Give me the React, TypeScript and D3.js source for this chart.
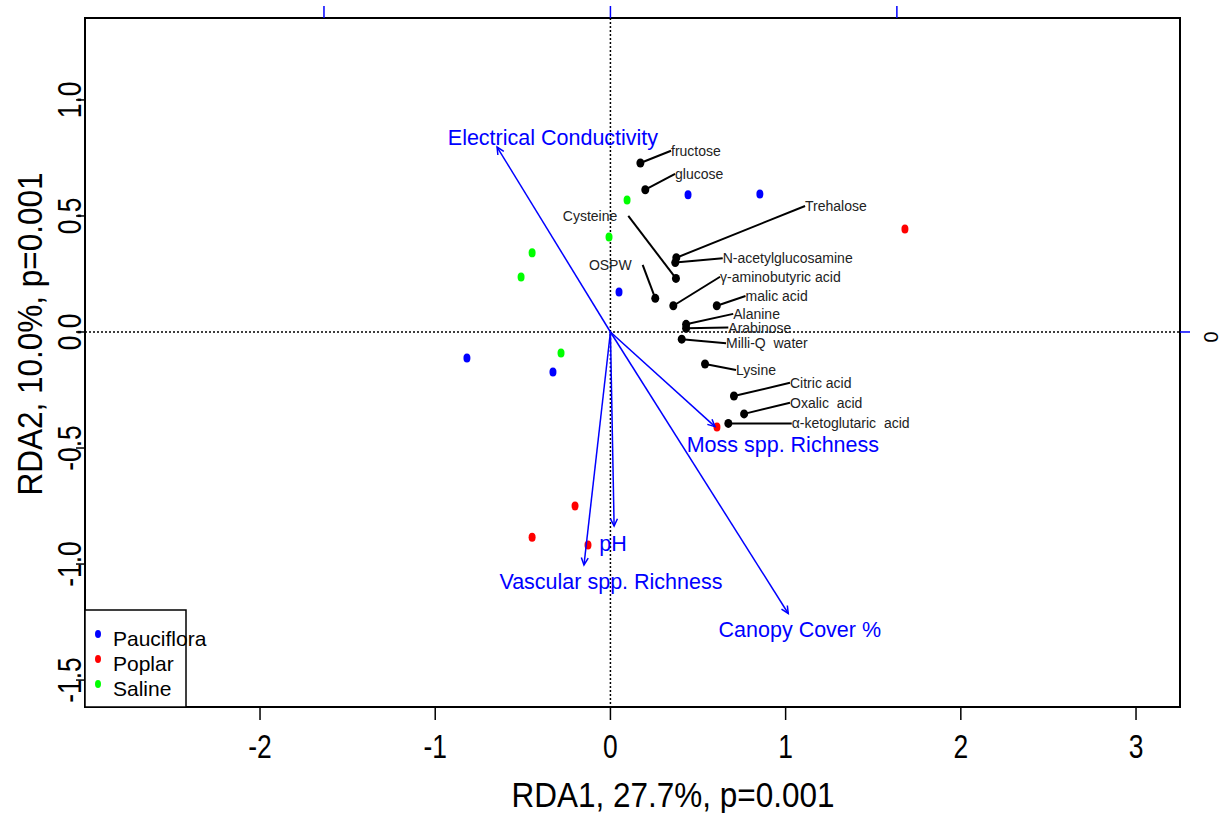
import React from "react";
import * as d3 from "d3";

// ---- Data ----
const siteGroups = ["Pauciflora", "Poplar", "Saline"];
const groupColors = ["#0000FF", "#FF0000", "#00FF00"];

const paucifloraX = [0.443, 0.853, 0.049, -0.819, -0.328];
const paucifloraY = [0.591, 0.595, 0.172, -0.112, -0.172];
const poplarX = [1.681, 0.608, -0.202, -0.447, -0.128];
const poplarY = [0.444, -0.409, -0.75, -0.884, -0.918];
const salineX = [0.095, -0.008, -0.447, -0.51, -0.282];
const salineY = [0.569, 0.409, 0.341, 0.237, -0.091];

const speciesNames = [
  "fructose", "glucose", "Trehalose", "N-acetylglucosamine", "Cysteine",
  "γ-aminobutyric acid", "OSPW", "malic acid", "Alanine", "Arabinose",
  "Milli-Q  water", "Lysine", "Citric acid", "Oxalic  acid", "α-ketoglutaric  acid",
];
const speciesX = [0.171, 0.199, 0.376, 0.37, 0.374, 0.359, 0.256, 0.607, 0.432, 0.432, 0.407, 0.54, 0.705, 0.763, 0.673];
const speciesY = [0.728, 0.613, 0.32, 0.299, 0.231, 0.113, 0.145, 0.113, 0.033, 0.016, -0.031, -0.138, -0.276, -0.353, -0.394];
const speciesLabelX = [0.346, 0.369, 1.111, 0.641, 0.102, 0.626, 0.184, 0.771, 0.701, 0.673, 0.66, 0.717, 1.025, 1.025, 1.035];
const speciesLabelY = [0.781, 0.681, 0.543, 0.318, 0.5, 0.238, 0.289, 0.155, 0.078, 0.019, -0.049, -0.164, -0.219, -0.305, -0.394];
const speciesLabelSide = ["r", "r", "r", "r", "l", "r", "l", "r", "r", "r", "r", "r", "r", "r", "r"];

const envNames = ["Electrical Conductivity", "Moss spp. Richness", "Canopy Cover %", "pH", "Vascular spp. Richness"];
const envX = [-0.647, 0.597, 1.015, 0.021, -0.151];
const envY = [0.797, -0.408, -1.213, -0.836, -1.004];
const envLabelX = [-0.328, 0.984, 1.081, 0.015, 0.003];
const envLabelY = [0.836, -0.487, -1.284, -0.914, -1.078];

const xTicks = [-2, -1, 0, 1, 2, 3];
const yTicks = [-1.5, -1.0, -0.5, 0.0, 0.5, 1.0];
const topTicks = [-1, 0, 1];
const topMultiplier = 1.635;
const rightTicks = [0];

const xTitle = "RDA1, 27.7%, p=0.001";
const yTitle = "RDA2, 10.0%, p=0.001";

export default function App() {
  const W = 1222, H = 813;
  const L = 85, R = 1180, T = 18, B = 707;
  const x = d3.scaleLinear().domain([-2.999, 3.251]).range([L, R]);
  const y = d3.scaleLinear().domain([-1.616, 1.353]).range([B, T]);
  const font = "'Liberation Sans', Arial, sans-serif";
  const squeeze = 0.8;

  const groups = [
    { xs: paucifloraX, ys: paucifloraY },
    { xs: poplarX, ys: poplarY },
    { xs: salineX, ys: salineY },
  ];

  const arrowHead = (x0: number, y0: number, x1: number, y1: number) => {
    const ang = Math.atan2(y1 - y0, x1 - x0);
    const len = 8, a = Math.PI / 7;
    const p1 = [x1 - len * Math.cos(ang - a), y1 - len * Math.sin(ang - a)];
    const p2 = [x1 - len * Math.cos(ang + a), y1 - len * Math.sin(ang + a)];
    return `M${p1[0]},${p1[1]}L${x1},${y1}L${p2[0]},${p2[1]}`;
  };

  const fmtY = (v: number) => v.toFixed(1);

  return (
    <svg width={W} height={H} style={{ position: "absolute", left: 0, top: 0, background: "#fff" }} fontFamily={font}>
      <rect x={0} y={0} width={W} height={H} fill="#fff" />
      {/* reference lines */}
      <line x1={x(0)} x2={x(0)} y1={T} y2={B} stroke="#000" strokeWidth={1.5} strokeDasharray="2,2" />
      <line x1={L} x2={R} y1={y(0)} y2={y(0)} stroke="#000" strokeWidth={1.5} strokeDasharray="2,2" />

      {/* sites */}
      {groups.map((g, gi) =>
        g.xs.map((v, i) => (
          <ellipse key={`s${gi}-${i}`} cx={x(v)} cy={y(g.ys[i])} rx={3.5} ry={4.5} fill={groupColors[gi]} />
        ))
      )}

      {/* species leader lines, points and labels */}
      {speciesNames.map((n, i) => {
        const px = x(speciesX[i]), py = y(speciesY[i]);
        const lx = x(speciesLabelX[i]), ly = y(speciesLabelY[i]);
        const left = speciesLabelSide[i] === "l";
        return (
          <g key={`sp${i}`}>
            <line x1={px} y1={py} x2={lx} y2={ly} stroke="#000" strokeWidth={2} />
            <ellipse cx={px} cy={py} rx={4} ry={4.5} fill="#000" />
            <text x={left ? lx - 11 : lx} y={ly} textAnchor={left ? "end" : "start"} dominantBaseline="central"
              fontSize={14} fill="#222" style={{ whiteSpace: "pre" }}>{n}</text>
          </g>
        );
      })}

      {/* environmental arrows */}
      {envNames.map((n, i) => {
        const x0 = x(0), y0 = y(0), x1 = x(envX[i]), y1 = y(envY[i]);
        return (
          <g key={`env${i}`}>
            <line x1={x0} y1={y0} x2={x1} y2={y1} stroke="#0000FF" strokeWidth={1.5} />
            <path d={arrowHead(x0, y0, x1, y1)} fill="none" stroke="#0000FF" strokeWidth={1.5} />
            <text x={x(envLabelX[i])} y={y(envLabelY[i])} textAnchor="middle" dominantBaseline="central"
              fontSize={21.5} fill="#0000FF">{n}</text>
          </g>
        );
      })}

      {/* box */}
      <rect x={L} y={T} width={R - L} height={B - T} fill="none" stroke="#000" strokeWidth={2} />

      {/* bottom axis */}
      {xTicks.map((t) => (
        <g key={`xt${t}`}>
          <line x1={x(t)} x2={x(t)} y1={B} y2={B + 13} stroke="#000" strokeWidth={1.5} />
          <text transform={`translate(${x(t)},${B + 39}) scale(${squeeze},1)`} textAnchor="middle" dominantBaseline="central" fontSize={33} fill="#000">{t}</text>
        </g>
      ))}
      {/* left axis */}
      {yTicks.map((t) => (
        <g key={`yt${t}`}>
          <line x1={L - 9} x2={L} y1={y(t)} y2={y(t)} stroke="#000" strokeWidth={1.5} />
          <text transform={`translate(${69},${y(t)}) rotate(-90) scale(${squeeze},1)`} textAnchor="middle" dominantBaseline="central" fontSize={33} fill="#000">{fmtY(t)}</text>
        </g>
      ))}
      {/* top axis */}
      {topTicks.map((t) => (
        <line key={`tt${t}`} x1={x(t * topMultiplier)} x2={x(t * topMultiplier)} y1={T} y2={T - 12} stroke="#0000FF" strokeWidth={1.5} />
      ))}
      {/* right axis */}
      {rightTicks.map((t) => (
        <g key={`rt${t}`}>
          <line x1={R} x2={R + 10} y1={y(t)} y2={y(t)} stroke="#0000FF" strokeWidth={1.5} />
          <text transform={`translate(${R + 31},${y(t) + 5}) rotate(90)`} textAnchor="middle" dominantBaseline="central" fontSize={20} fill="#000">{t}</text>
        </g>
      ))}

      {/* axis titles */}
      <text transform={`translate(${673},${795}) scale(0.9,1)`} textAnchor="middle" dominantBaseline="central" fontSize={35} fill="#000">{xTitle}</text>
      <text transform={`translate(30,${334}) rotate(-90) scale(0.9,1)`} textAnchor="middle" dominantBaseline="central" fontSize={35} fill="#000">{yTitle}</text>

      {/* legend */}
      <rect x={L} y={610} width={101} height={B - 610} fill="#fff" stroke="#000" strokeWidth={1.5} />
      {siteGroups.map((g, i) => (
        <g key={`lg${i}`}>
          <ellipse cx={98} cy={634 + i * 25} rx={3} ry={4} fill={groupColors[i]} />
          <text x={113} y={638 + i * 25} dominantBaseline="central" fontSize={21} fill="#000">{g}</text>
        </g>
      ))}
    </svg>
  );
}
